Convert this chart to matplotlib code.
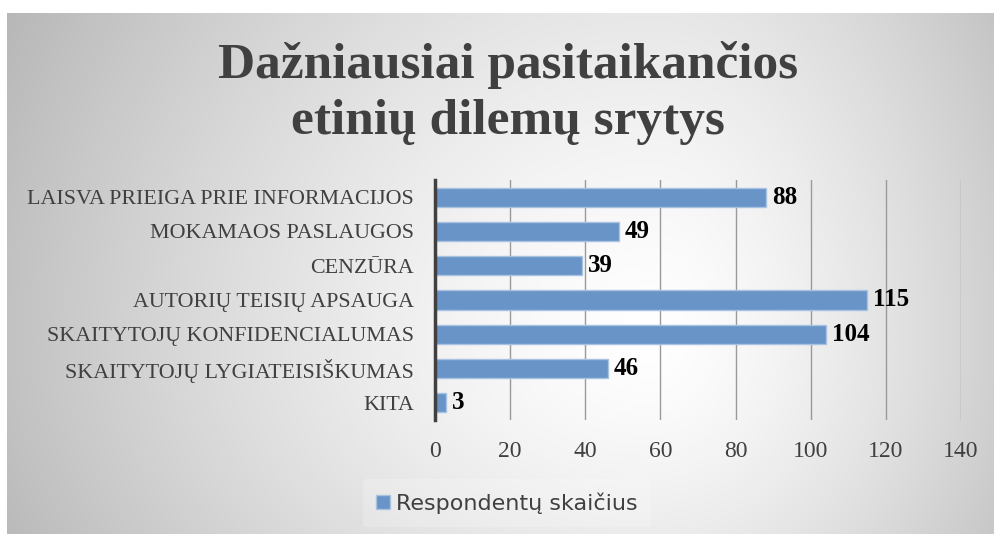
import numpy as np
import matplotlib.pyplot as plt
from matplotlib.patches import Patch

categories = ["LAISVA PRIEIGA PRIE INFORMACIJOS", "MOKAMAOS PASLAUGOS", "CENZŪRA",
              "AUTORIŲ TEISIŲ APSAUGA", "SKAITYTOJŲ KONFIDENCIALUMAS",
              "SKAITYTOJŲ LYGIATEISIŠKUMAS", "KITA"]
values = [88, 49, 39, 115, 104, 46, 3]
series_name = "Respondentų skaičius"
title_lines = ["Dažniausiai pasitaikančios", "etinių dilemų srytys"]
xticks = [0, 20, 40, 60, 80, 100, 120, 140]

W, H = 995, 534
fig = plt.figure(figsize=(W / 100, H / 100), dpi=100)

# grey background, white-ish in the middle
bg = fig.add_axes([7 / W, 0, 1 - 7 / W, 1 - 13 / H], zorder=0)
xx, yy = np.meshgrid(np.arange(7, W), np.arange(13, H))
cx, cy = 650, 340
rx = np.where(xx < cx, 650, 420)
ry = np.where(yy < cy, 650, 450)
d = np.sqrt(((xx - cx) / rx) ** 2 + ((yy - cy) / ry) ** 2)
g = 255 - 62 * np.clip(d, 0, 1.3) ** 1.4
g = np.clip(g, 180, 255) / 255
bg.imshow(np.dstack([g, g, g]), aspect="auto", extent=[0, 1, 0, 1], origin="upper")
bg.axis("off")

ax = fig.add_axes([435 / W, 1 - 420 / H, (961 - 435) / W, 240 / H], zorder=1)
ax.patch.set_alpha(0)
y = np.arange(len(categories))
ax.barh(y, values, height=0.56, color="#6894c8", edgecolor="#a8c2e2", linewidth=1, zorder=3)
ax.set_ylim(len(categories) - 0.5, -0.5)
ax.set_xlim(0, 140)
ax.set_xticks(xticks)
ax.set_yticks(y)
ax.set_yticklabels(categories, family="Liberation Serif", fontsize=15.8, color="#404040")
ax.set_xticklabels([str(t) for t in xticks], family="Liberation Serif", fontsize=17, color="#404040")
ax.tick_params(axis="y", length=0, pad=15)
ax.tick_params(axis="x", length=0, pad=15)
ax.grid(axis="x", color="#9a9a9a", linewidth=1, zorder=0)
for s in ["top", "right", "bottom"]:
    ax.spines[s].set_visible(False)
ax.spines["left"].set_color("#404040")
ax.spines["left"].set_linewidth(2.5)
ax.spines["left"].set_zorder(4)

for yi, v in zip(y, values):
    ax.text(v + 1.6, yi, str(v), va="center", ha="left", family="Liberation Serif",
            fontweight="bold", fontsize=18, color="black", zorder=5)

for line, ypx in zip(title_lines, [65, 122]):
    fig.text(508 / W, 1 - ypx / H, line, ha="center", va="center",
             family="Liberation Serif", fontweight="bold", fontsize=37, color="#404040")

leg = fig.legend(handles=[Patch(facecolor="#6894c8", edgecolor="#a8c2e2", label=series_name)],
                 loc="center", bbox_to_anchor=(507 / W, 1 - 503 / H), frameon=True,
                 prop={"family": "DejaVu Sans", "size": 16},
                 handlelength=0.6, handleheight=0.6, handletextpad=0.3, borderpad=0.6)
leg.get_frame().set_facecolor("white")
leg.get_frame().set_alpha(0.2)
leg.get_frame().set_edgecolor("none")
for t in leg.get_texts():
    t.set_color("#404040")

fig.savefig("out.png", dpi=100)
